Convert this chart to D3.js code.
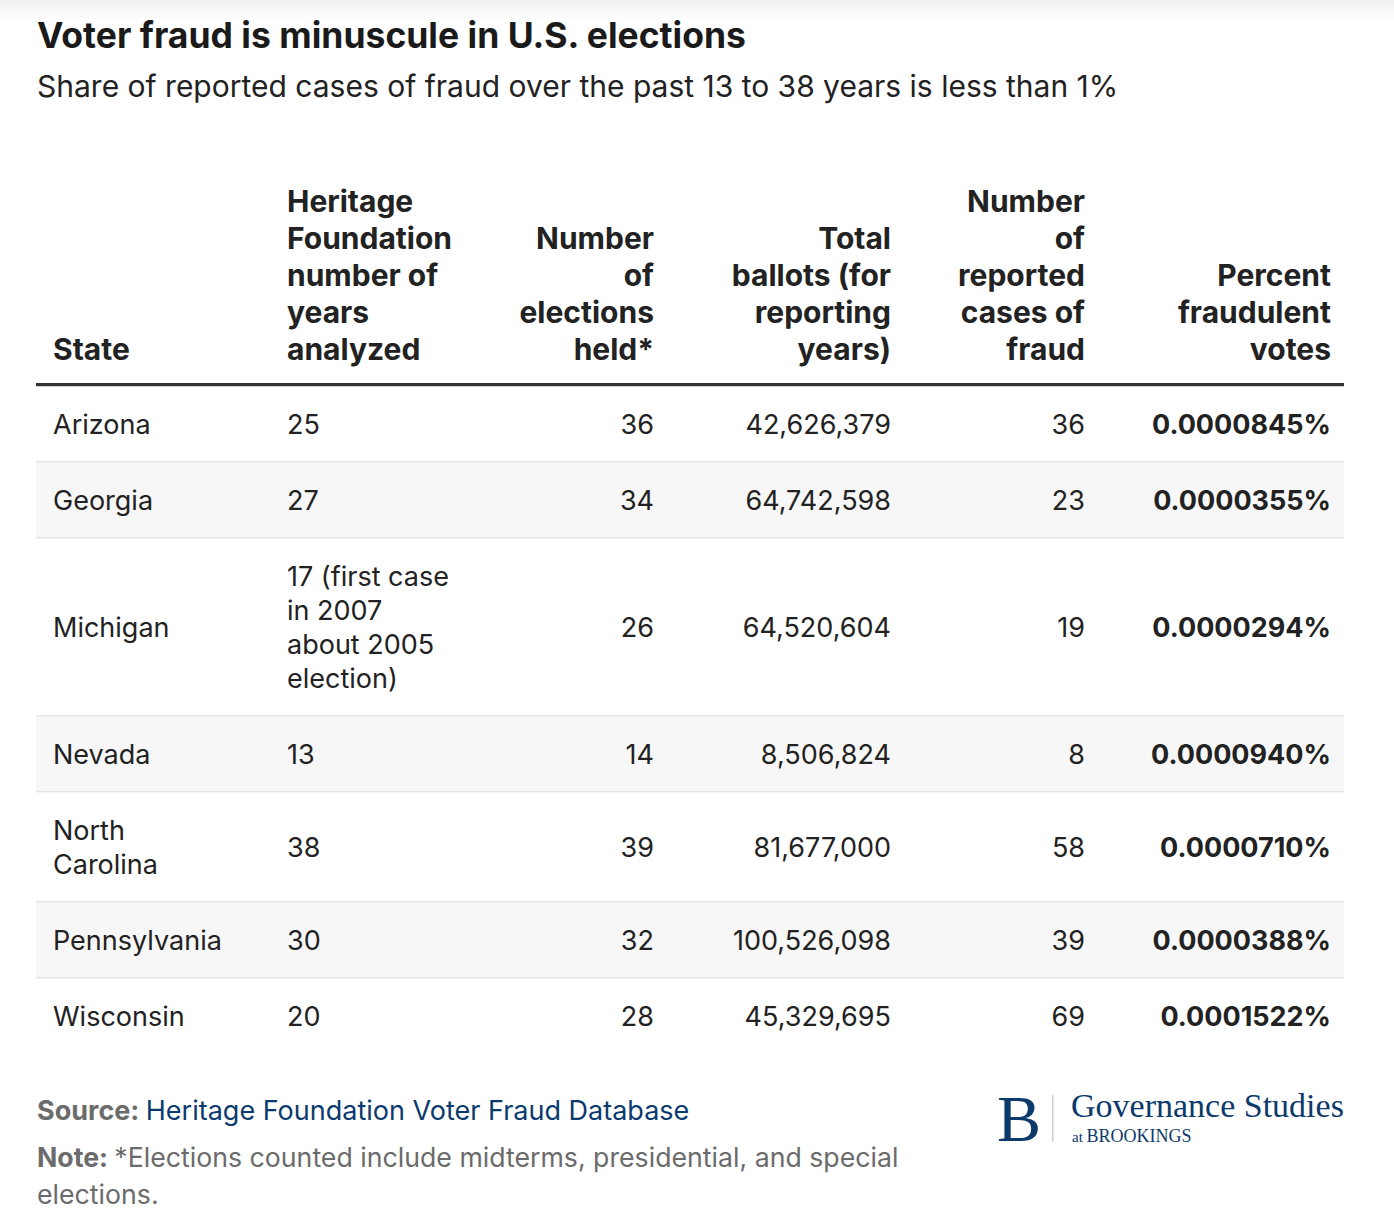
<!DOCTYPE html>
<html>
<head>
<meta charset="utf-8">
<script src="https://cdn.jsdelivr.net/npm/d3@7"></script>
<style>
  body { margin: 0; background: #fff; }
  svg { display: block; font-family: Inter, "Noto Sans", sans-serif; }
</style>
</head>
<body>
<div id="chart"></div>
<script>

// table content
var headers = [
  ["State"],
  ["Heritage", "Foundation", "number of", "years", "analyzed"],
  ["Number", "of", "elections", "held*"],
  ["Total", "ballots (for", "reporting", "years)"],
  ["Number", "of", "reported", "cases of", "fraud"],
  ["Percent", "fraudulent", "votes"]
];
var states = [["Arizona"], ["Georgia"], ["Michigan"], ["Nevada"], ["North", "Carolina"], ["Pennsylvania"], ["Wisconsin"]];
var yearsAnalyzed = [["25"], ["27"], ["17 (first case", "in 2007", "about 2005", "election)"], ["13"], ["38"], ["30"], ["20"]];
var electionsHeld = [36, 34, 26, 14, 39, 32, 28];
var totalBallots = [42626379, 64742598, 64520604, 8506824, 81677000, 100526098, 45329695];
var fraudCases = [36, 23, 19, 8, 58, 39, 69];
var percentFraud = ["0.0000845%", "0.0000355%", "0.0000294%", "0.0000940%", "0.0000710%", "0.0000388%", "0.0001522%"];

var title = "Voter fraud is minuscule in U.S. elections";
var subtitle = "Share of reported cases of fraud over the past 13 to 38 years is less than 1%";

// set the dimensions
var width = 1394;
var height = 1222;
var left = 36, right = 1344;

var svg = d3.select("#chart")
  .append("svg")
  .attr("width", width)
  .attr("height", height);

// faint top shadow
var grad = svg.append("defs").append("linearGradient")
  .attr("id", "topfade").attr("x1", 0).attr("x2", 0).attr("y1", 0).attr("y2", 1);
grad.append("stop").attr("offset", "0%").attr("stop-color", "#f1f1f1");
grad.append("stop").attr("offset", "100%").attr("stop-color", "#ffffff");
svg.append("rect").attr("width", width).attr("height", 22).attr("fill", "url(#topfade)");

// title + subtitle
svg.append("text")
  .attr("x", 37).attr("y", 48)
  .style("font-size", "35.5px").style("font-weight", 700).attr("fill", "#1a1a1a")
  .text(title);
svg.append("text")
  .attr("x", 37).attr("y", 97)
  .style("font-size", "30px").attr("fill", "#222")
  .text(subtitle);

// columns: x anchor + alignment
var columns = [
  { x: 53, anchor: "start" },
  { x: 287, anchor: "start" },
  { x: 654, anchor: "end" },
  { x: 891, anchor: "end" },
  { x: 1085, anchor: "end" },
  { x: 1331, anchor: "end" }
];

// header (bottom aligned)
var headLine = 37, headBase = 360;
var head = svg.append("g");
head.selectAll("text")
  .data(headers)
  .enter()
  .append("text")
  .attr("text-anchor", function (d, i) { return columns[i].anchor; })
  .style("font-size", "30px").style("font-weight", 700).attr("fill", "#222")
  .each(function (d, i) {
    var t = d3.select(this);
    d.forEach(function (line, k) {
      t.append("tspan")
        .attr("x", columns[i].x)
        .attr("y", headBase - (d.length - 1 - k) * headLine)
        .text(line);
    });
  });

svg.append("rect")
  .attr("x", left).attr("y", 383)
  .attr("width", right - left).attr("height", 3.5)
  .attr("fill", "#333");

// build rows
var fmt = d3.format(",");
var rows = states.map(function (s, i) {
  return [s, yearsAnalyzed[i], [String(electionsHeld[i])], [fmt(totalBallots[i])], [String(fraudCases[i])], [percentFraud[i]]];
});

var lineH = 34, pad = 42;
var y0 = 386.5;
var tops = [];
rows.forEach(function (r, i) {
  var n = d3.max(r, function (c) { return c.length; });
  tops.push({ y: y0, h: n * lineH + pad });
  y0 += n * lineH + pad;
});

var body = svg.append("g");
var rowG = body.selectAll("g.row")
  .data(rows)
  .enter()
  .append("g")
  .attr("class", "row")
  .attr("transform", function (d, i) { return "translate(0," + tops[i].y + ")"; });

rowG.append("rect")
  .attr("x", left)
  .attr("width", right - left)
  .attr("height", function (d, i) { return tops[i].h; })
  .attr("fill", function (d, i) { return i % 2 ? "#f7f7f7" : "#fff"; });

rowG.filter(function (d, i) { return i < rows.length - 1; })
  .append("rect")
  .attr("x", left)
  .attr("y", function (d, i) { return tops[i].h - 1.5; })
  .attr("width", right - left)
  .attr("height", 2)
  .attr("fill", "#e6e6e6");

rowG.each(function (r, i) {
  var g = d3.select(this);
  var mid = tops[i].h / 2;
  r.forEach(function (cell, c) {
    var t = g.append("text")
      .attr("text-anchor", columns[c].anchor)
      .style("font-size", "27px")
      .style("font-weight", c === 5 ? 700 : 400)
      .attr("fill", "#222");
    cell.forEach(function (line, k) {
      t.append("tspan")
        .attr("x", columns[c].x)
        .attr("y", mid + 9.5 - (cell.length - 1) * lineH / 2 + k * lineH)
        .text(line);
    });
  });
});

// footer notes
var src = svg.append("text")
  .attr("x", 37).attr("y", 1120)
  .style("font-size", "27px");
src.append("tspan").attr("fill", "#6b6b6b").style("font-weight", 700).text("Source: ");
src.append("tspan").attr("fill", "#0b3a6e").text("Heritage Foundation Voter Fraud Database");

var note = svg.append("text")
  .attr("x", 37).attr("y", 1167)
  .style("font-size", "26.7px").attr("fill", "#6b6b6b");
note.append("tspan").style("font-weight", 700).text("Note: ");
note.append("tspan").text("*Elections counted include midterms, presidential, and special");
svg.append("text")
  .attr("x", 37).attr("y", 1204)
  .style("font-size", "26.7px").attr("fill", "#6b6b6b")
  .text("elections.");

// logo
var logo = svg.append("g").attr("fill", "#0c3a6b").style("font-family", "'Liberation Serif', 'DejaVu Serif', serif");
logo.append("text").attr("x", 997).attr("y", 1141).style("font-size", "66px").text("B");
logo.append("rect").attr("x", 1052).attr("y", 1095).attr("width", 1.5).attr("height", 47).attr("fill", "#cfcfcf");
logo.append("text").attr("x", 1071).attr("y", 1117).style("font-size", "34px").text("Governance Studies");
var sub = logo.append("text").attr("x", 1072).attr("y", 1142).style("font-size", "15px");
sub.append("tspan").text("at ");
sub.append("tspan").style("font-size", "18px").text("BROOKINGS");

</script>
</body>
</html>
